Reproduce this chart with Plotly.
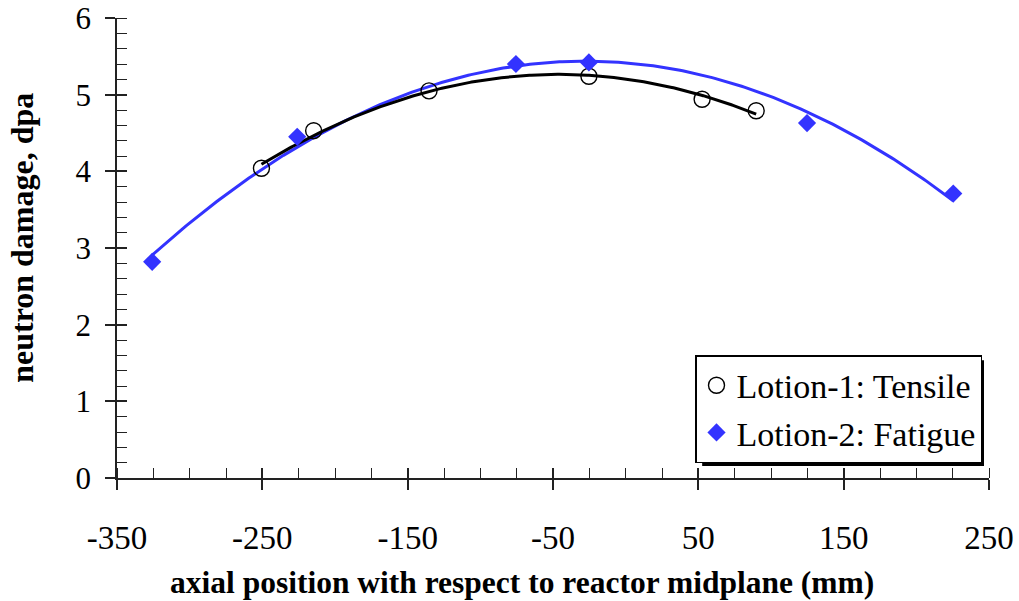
import numpy as np
import plotly.graph_objects as go

# Location 1: tensile specimens
tensile_x = [-250.6, -214.7, -135.3, -25.3, 52.6, 89.8]
tensile_dpa = [4.04, 4.53, 5.05, 5.24, 4.94, 4.79]

# Location 2: fatigue specimens
fatigue_x = [-325.8, -226.0, -75.5, -25.3, 124.8, 225.4]
fatigue_dpa = [2.82, 4.45, 5.40, 5.42, 4.63, 3.71]

x_ticks = [-350, -250, -150, -50, 50, 150, 250]
y_ticks = [0, 1, 2, 3, 4, 5, 6]

BLUE = "#3333ff"
FONT = "Liberation Serif"
AXIS_COLOR = "#222222"

# plot-area geometry in pixels
L, R, T, B = 116.5, 989.0, 17.5, 478.0
W, H = R - L, B - T


def px_x(p):
    return (p - L) / W


def px_y(p):
    return (B - p) / H


def trend(xs, ys):
    """Second-order polynomial trendline over the span of the data."""
    coef = np.polyfit(xs, ys, 2)
    xx = np.linspace(min(xs), max(xs), 300)
    return xx, np.polyval(coef, xx)


fig = go.Figure()

tx, ty = trend(tensile_x, tensile_dpa)
fx, fy = trend(fatigue_x, fatigue_dpa)

fig.add_trace(go.Scatter(x=fx, y=fy, mode="lines", line=dict(color=BLUE, width=3),
                         showlegend=False, hoverinfo="skip"))
fig.add_trace(go.Scatter(x=tx, y=ty, mode="lines", line=dict(color="black", width=3),
                         showlegend=False, hoverinfo="skip"))

fig.add_trace(go.Scatter(
    x=tensile_x, y=tensile_dpa, mode="markers", name="Lotion-1: Tensile",
    marker=dict(symbol="circle-open", size=16, color="black", line=dict(width=1.4, color="black")),
))
fig.add_trace(go.Scatter(
    x=fatigue_x, y=fatigue_dpa, mode="markers", name="Lotion-2: Fatigue",
    marker=dict(symbol="diamond", size=14, color=BLUE, line=dict(width=0)),
))

x_range = [-350, 250]
y_range = [0, 6]

common = dict(showgrid=False, zeroline=False, showline=True, linecolor=AXIS_COLOR,
              linewidth=1.5, tickcolor=AXIS_COLOR, tickwidth=1.5, ticklen=10,
              automargin=False)

fig.update_layout(
    width=1019, height=601,
    margin=dict(l=L, r=1019 - R, t=T, b=601 - B),
    paper_bgcolor="white", plot_bgcolor="white",
    font=dict(family=FONT, color="black"),
    xaxis=dict(
        range=x_range, tickvals=x_ticks, ticktext=[str(v) for v in x_ticks],
        ticks="outside", tickfont=dict(size=33), ticklabelstandoff=20,
        minor=dict(ticks="inside", dtick=25, tick0=-350, ticklen=10,
                   tickcolor=AXIS_COLOR, tickwidth=1.3),
        **common,
    ),
    yaxis=dict(
        range=y_range, tickvals=y_ticks, ticktext=[str(v) for v in y_ticks],
        ticks="outside", tickfont=dict(size=31), ticklabelstandoff=8,
        minor=dict(ticks="inside", dtick=0.2, tick0=0, ticklen=10,
                   tickcolor=AXIS_COLOR, tickwidth=1.3),
        **common,
    ),
    # mirror axes carrying only the inner half of the major ticks
    xaxis2=dict(overlaying="x", matches="x", range=x_range, tickvals=x_ticks,
                ticks="inside", showticklabels=False, side="bottom", **common),
    yaxis2=dict(overlaying="y", matches="y", range=y_range, tickvals=y_ticks,
                ticks="inside", showticklabels=False, side="left", **common),
    legend=dict(
        x=px_x(982), y=px_y(355), xanchor="right", yanchor="top",
        bgcolor="white", bordercolor="black", borderwidth=1.5,
        font=dict(size=34, family=FONT), itemwidth=30, tracegroupgap=0,
    ),
    showlegend=True,
)

# axis titles
fig.add_annotation(text="<b>axial position with respect to reactor midplane (mm)</b>",
                   xref="paper", yref="paper", x=px_x(522), y=px_y(583),
                   xanchor="center", yanchor="middle", showarrow=False,
                   font=dict(size=31.5, family=FONT, color="black"))
fig.add_annotation(text="<b>neutron damage, dpa</b>", textangle=-90,
                   xref="paper", yref="paper", x=px_x(22), y=px_y(238),
                   xanchor="center", yanchor="middle", showarrow=False,
                   font=dict(size=32, family=FONT, color="black"))

# invisible helper trace so the mirror axes are drawn
fig.add_trace(go.Scatter(x=[None], y=[None], xaxis="x2", yaxis="y2",
                         showlegend=False, hoverinfo="skip"))

# drop shadow behind the legend box
fig.add_shape(type="rect", xref="paper", yref="paper",
              x0=px_x(702), x1=px_x(984), y0=px_y(466), y1=px_y(360),
              fillcolor="black", line=dict(width=0), layer="above")

fig.write_html("out.html")
